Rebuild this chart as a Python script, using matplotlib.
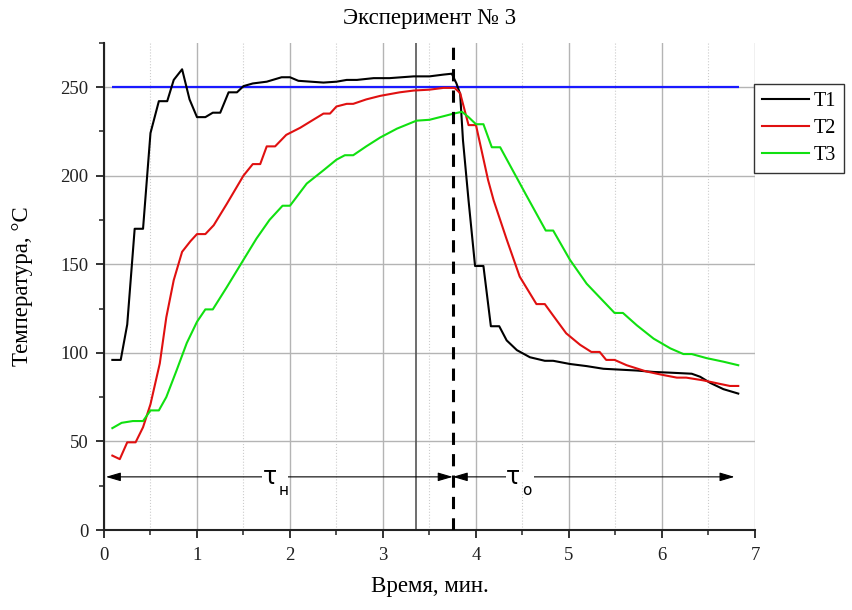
import matplotlib
matplotlib.use('Agg')
import matplotlib.pyplot as plt
from matplotlib.patches import Rectangle
from matplotlib.ticker import MultipleLocator

plt.rcParams['font.family'] = ['Liberation Serif', 'DejaVu Serif']

# data (time in min, temperature in degC)
t1_x = [0.09, 0.18, 0.25, 0.33, 0.42, 0.50, 0.59, 0.68, 0.75, 0.84,
        0.92, 1.00, 1.09, 1.17, 1.25, 1.34, 1.43, 1.50, 1.60, 1.75,
        1.91, 2.00, 2.09, 2.36, 2.50, 2.61, 2.72, 2.90, 3.07, 3.33,
        3.50, 3.65, 3.74, 3.79, 3.83, 3.86, 3.92, 3.99, 4.08, 4.16,
        4.25, 4.33, 4.44, 4.58, 4.74, 4.83, 5.01, 5.19, 5.37, 5.55,
        5.73, 5.91, 6.09, 6.32, 6.41, 6.52, 6.66, 6.82]
t1_y = [96, 96, 116, 170, 170, 224, 242, 242, 254, 260,
        243, 233, 233, 235.5, 235.5, 247, 247, 250.5, 252, 253,
        255.5, 255.5, 253.5, 252.5, 253, 254, 254, 255, 255, 256,
        256, 257, 257.5, 252, 246, 220, 186, 149, 149, 115,
        115, 107, 101.5, 97.5, 95.5, 95.5, 93.7, 92.5, 91, 90.5,
        90, 89.2, 88.8, 88.2, 86.5, 83, 79.5, 77]

t2_x = [0.09, 0.17, 0.25, 0.34, 0.42, 0.50, 0.60, 0.67, 0.75, 0.84,
        0.93, 1.00, 1.09, 1.18, 1.32, 1.50, 1.60, 1.68, 1.75, 1.84,
        1.96, 2.11, 2.25, 2.36, 2.43, 2.50, 2.61, 2.68, 2.82, 2.97,
        3.18, 3.33, 3.50, 3.65, 3.77, 3.83, 3.92, 4.00, 4.13, 4.19,
        4.33, 4.47, 4.65, 4.74, 4.83, 4.97, 5.12, 5.24, 5.33, 5.40,
        5.49, 5.62, 5.83, 6.01, 6.16, 6.26, 6.44, 6.62, 6.73, 6.82]
t2_y = [42, 40, 49.5, 49.5, 58, 71, 94, 120, 141, 157,
        163, 167, 167, 172, 184, 200, 206.5, 206.5, 216.5, 216.5,
        223, 227, 231.5, 235, 235, 239, 240.5, 240.5, 243, 245,
        247, 248, 248.5, 249.5, 249.5, 246.5, 228.5, 228.5, 197.5, 186,
        164, 143, 127.5, 127.5, 121, 111, 104.5, 100.5, 100.5, 96,
        96, 93, 89.5, 87.5, 86, 86, 84.5, 82.5, 81.3, 81.3]

t3_x = [0.09, 0.19, 0.31, 0.42, 0.50, 0.59, 0.67, 0.78, 0.89, 1.00,
        1.09, 1.17, 1.32, 1.50, 1.64, 1.78, 1.92, 2.00, 2.18, 2.36,
        2.50, 2.59, 2.68, 2.82, 2.97, 3.15, 3.36, 3.50, 3.65, 3.76,
        3.85, 3.92, 4.00, 4.08, 4.17, 4.26, 4.54, 4.75, 4.83, 5.01,
        5.19, 5.49, 5.58, 5.73, 5.91, 6.09, 6.23, 6.32, 6.48, 6.66,
        6.82]
t3_y = [57.5, 60.5, 61.5, 61.5, 67.5, 67.5, 75, 90, 105.5, 117.5,
        124.5, 124.5, 137, 152.5, 164.5, 175, 183, 183, 195.5, 203,
        209, 211.5, 211.5, 216.5, 221.5, 226.5, 231, 231.5, 233.5, 235,
        236, 233, 229, 229, 216, 216, 189, 169, 169, 152.5,
        139, 122.5, 122.5, 115.5, 108, 102.5, 99.3, 99.3, 97, 95,
        93]

setpoint = 250
setpoint_span = [0.09, 6.83]
t_mark = 3.35        # thin solid vertical line
t_switch = 3.75      # dashed vertical line
t_end = 6.78
arrow_level = 30
# interval labels: (x of tau, subscript, gap in the arrow line)
interval_labels = [(1.78, 'н', (1.70, 1.98)), (4.40, 'о', (4.32, 4.62))]

fig = plt.figure(figsize=(8.53, 6.10), dpi=100)
ax = fig.add_axes([0.1219, 0.1311, 0.7632, 0.7989])

ax.set_xlim(0, 7)
ax.set_ylim(0, 275)
ax.xaxis.set_major_locator(MultipleLocator(1))
ax.xaxis.set_minor_locator(MultipleLocator(0.5))
ax.yaxis.set_major_locator(MultipleLocator(50))
ax.yaxis.set_minor_locator(MultipleLocator(25))

ax.grid(which='major', color='#b4b4b4', lw=1.0)
ax.grid(which='minor', axis='x', color='#cccccc', lw=0.8, ls=':')
ax.set_axisbelow(True)

for side in ['top', 'right']:
    ax.spines[side].set_visible(False)
for side in ['left', 'bottom']:
    ax.spines[side].set_linewidth(1.5)
    ax.spines[side].set_color('#222222')
ax.tick_params(which='major', direction='out', length=6, width=1.3,
               labelsize=13.5, colors='#222222')
ax.tick_params(axis='x', which='major', pad=6)
ax.tick_params(axis='y', which='major', pad=5)
ax.tick_params(which='minor', direction='out', length=3.5, width=1.1,
               colors='#222222')

ax.hlines(setpoint, setpoint_span[0], setpoint_span[1], color='#1a1aff', lw=1.6, zorder=3)
ax.axvline(t_mark, color='#555555', lw=1.2, zorder=2)
ax.axvline(t_switch, color='black', lw=2.2, ls=(0, (4, 3)), zorder=5)

ax.plot(t1_x, t1_y, color='black', lw=1.5, label='T1', zorder=4)
ax.plot(t2_x, t2_y, color='#e01010', lw=1.5, label='T2', zorder=4)
ax.plot(t3_x, t3_y, color='#10e010', lw=1.5, label='T3', zorder=4)

arrow_style = dict(arrowstyle='<|-|>,head_length=0.75,head_width=0.22',
                   color='black', lw=0.8, shrinkA=0, shrinkB=0,
                   mutation_scale=12)
ax.annotate('', xy=(0.02, arrow_level), xytext=(t_switch, arrow_level),
            arrowprops=arrow_style, zorder=3)
ax.annotate('', xy=(t_end, arrow_level), xytext=(t_switch, arrow_level),
            arrowprops=arrow_style, zorder=3)

for xt, sub, gap in interval_labels:
    ax.add_patch(Rectangle((gap[0], arrow_level - 3), gap[1] - gap[0], 6,
                           facecolor='white', edgecolor='none', zorder=3.5))
    ax.text(xt, arrow_level, 'τ', family=['DejaVu Sans'], fontsize=17,
            ha='center', va='center', zorder=5)
    ax.annotate(sub, xy=(xt, arrow_level), xytext=(10, -10), textcoords='offset points',
                family=['DejaVu Sans'], fontsize=11, ha='center', va='center', zorder=5)

ax.set_xlabel('Время, мин.', fontsize=16.5, labelpad=9)
ax.set_ylabel('Температура, °C', fontsize=16.5, labelpad=20)
fig.text(0.504, 0.97, 'Эксперимент № 3', fontsize=16.5, ha='center', va='center')

leg = ax.legend(loc='upper left', bbox_to_anchor=(0.884, 0.862),
                bbox_transform=fig.transFigure, fontsize=14.5, frameon=True,
                fancybox=False, edgecolor='#333333', framealpha=1,
                handlelength=2.35, handletextpad=0.2, labelspacing=0.38,
                borderpad=0.4, borderaxespad=0)
leg.get_frame().set_linewidth(1.0)

fig.savefig('out.png', dpi=100)
